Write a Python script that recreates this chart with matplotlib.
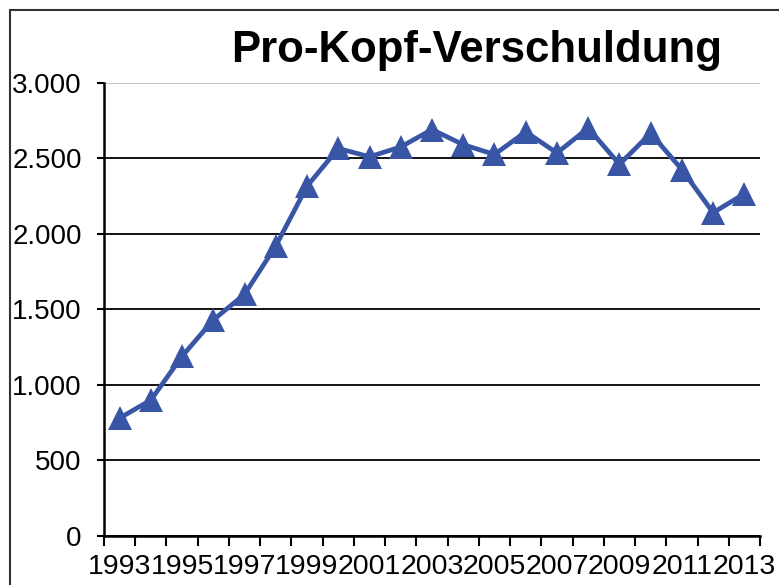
import matplotlib
matplotlib.use('Agg')
import matplotlib.pyplot as plt
from matplotlib.ticker import FuncFormatter, FixedLocator
from matplotlib.patches import Rectangle

years = list(range(1993, 2014))
verschuldung = [780, 900, 1190, 1430, 1600, 1920, 2315, 2565, 2510, 2575, 2690,
                2590, 2525, 2675, 2535, 2700, 2460, 2665, 2425, 2140, 2265]
y_ticks = [0, 500, 1000, 1500, 2000, 2500, 3000]
title = 'Pro-Kopf-Verschuldung'

plt.rcParams['font.family'] = ['Liberation Sans', 'DejaVu Sans']

fig = plt.figure(figsize=(7.79, 5.85), dpi=100)
ax = fig.add_axes([104 / 779, 1 - 536 / 585, 656 / 779, (536 - 82.7) / 585])

x = list(range(len(years)))
ax.plot(x, verschuldung, color='#3955A6', linewidth=3.4, marker='^', markersize=17,
        markeredgewidth=0, zorder=3, clip_on=False)

ax.set_xlim(-0.5, len(years) - 0.5)
ax.set_ylim(0, 3000)

# x: labels every second year, tick marks between categories
ax.set_xticks(x[::2])
ax.set_xticklabels([str(y) for y in years[::2]])
ax.xaxis.set_minor_locator(FixedLocator([i - 0.5 for i in range(len(years) + 1)]))
ax.tick_params(axis='x', which='major', length=0, pad=13, labelsize=20.5)
ax.tick_params(axis='x', which='minor', length=7, width=1.5, direction='out')

ax.set_yticks(y_ticks)
ax.yaxis.set_major_formatter(FuncFormatter(lambda v, p: f'{v:,.0f}'.replace(',', '.')))
ax.tick_params(axis='y', length=5, width=1.5, pad=11, labelsize=20)

ax.yaxis.grid(True, color='black', linewidth=1.3)
ax.set_axisbelow(True)
ax.get_ygridlines()[-1].set_color('#c0c0c0')

for side in ['top', 'right']:
    ax.spines[side].set_visible(False)
for side in ['left', 'bottom']:
    ax.spines[side].set_linewidth(1.8)

fig.text(477 / 779, 1 - 62 / 585, title, ha='center', va='baseline',
         fontsize=31.5, fontweight='bold')

# outer frame of the chart area
fig.patches.append(Rectangle((10 / 779, -0.2), 1.2, 1 - 10 / 585 + 0.2,
                             transform=fig.transFigure, fill=False,
                             edgecolor='#333333', linewidth=1.5))

fig.savefig('out.png', dpi=100)
